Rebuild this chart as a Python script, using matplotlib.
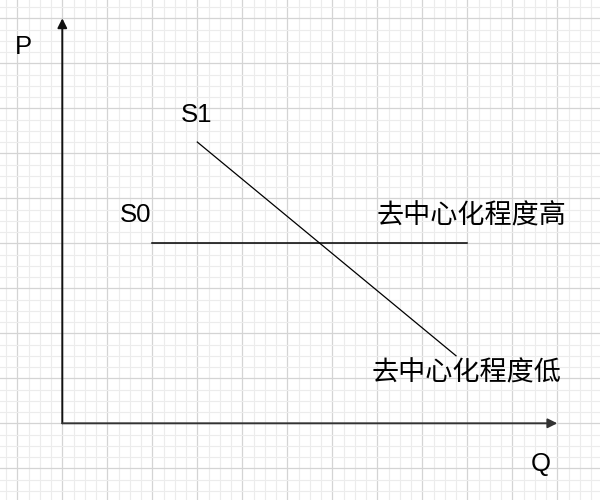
import matplotlib.pyplot as plt
from matplotlib.ticker import MultipleLocator

plt.rcParams['font.family'] = ['Liberation Sans', 'Noto Sans CJK SC', 'DejaVu Sans']

# diagram coordinates in grid cells, origin where the axes meet
x_axis_end = 44
y_axis_end = 36
s0_x = [8, 36]
s0_y = [16, 16]
s1_x = [12, 35]
s1_y = [25, 6]
label_high = '去中心化程度高'
label_low = '去中心化程度低'

cell = 11.25  # pixels per grid cell
ox, oy = 62.3, 423.3  # origin in pixels

fig = plt.figure(figsize=(6, 5), dpi=100)
ax = fig.add_axes([0, 0, 1, 1])
ax.set_xlim(-ox / cell, (600 - ox) / cell)
ax.set_ylim(-(500 - oy) / cell, oy / cell)

# background grid
ax.xaxis.set_major_locator(MultipleLocator(4))
ax.yaxis.set_major_locator(MultipleLocator(4))
ax.xaxis.set_minor_locator(MultipleLocator(1))
ax.yaxis.set_minor_locator(MultipleLocator(1))
ax.grid(True, which='minor', color='#ececec', lw=0.8)
ax.grid(True, which='major', color='#d4d4d4', lw=0.9)
ax.set_axisbelow(True)
ax.tick_params(which='both', length=0, labelbottom=False, labelleft=False)
for sp in ax.spines.values():
    sp.set_visible(False)

# axes arrows
arrow = dict(arrowstyle='-|>', color='#111111', lw=1.4, mutation_scale=14, shrinkA=0, shrinkB=0)
ax.annotate('', xy=(0, y_axis_end), xytext=(0, 0), arrowprops=arrow)
ax.annotate('', xy=(x_axis_end, 0), xytext=(0, 0), arrowprops=dict(arrow, color='#333333'))

# supply curves
ax.plot(s0_x, s0_y, color='black', lw=1.1)
ax.plot(s1_x, s1_y, color='black', lw=0.9)

fs = 18.5
ax.text(-3.45, 33.45, 'P', fontsize=fs, ha='center', va='center')
ax.text(42.55, -3.6, 'Q', fontsize=fs, ha='center', va='center')
ax.text(11.9, 27.4, 'S1', fontsize=fs, ha='center', va='center')
ax.text(6.55, 18.5, 'S0', fontsize=fs, ha='center', va='center')
ax.text(36.4, 18.4, label_high, fontsize=19.5, ha='center', va='center',
        family=['Noto Sans CJK SC', 'DejaVu Sans'])
ax.text(35.9, 4.5, label_low, fontsize=19.5, ha='center', va='center',
        family=['Noto Sans CJK SC', 'DejaVu Sans'])

plt.savefig('out.png', dpi=100)
